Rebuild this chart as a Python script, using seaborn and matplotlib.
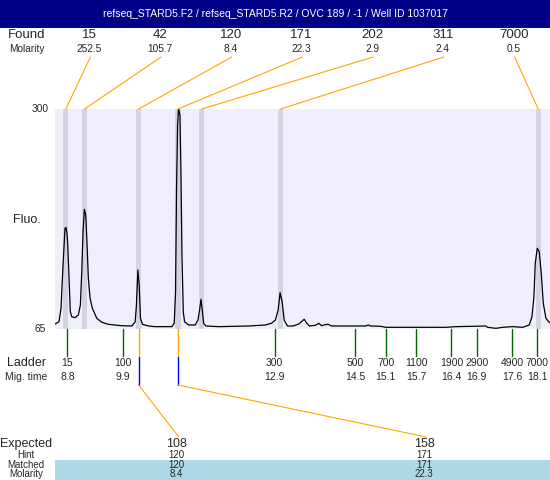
import matplotlib
matplotlib.use("Agg")
import matplotlib.pyplot as plt
import matplotlib.transforms as mtransforms
from matplotlib.patches import Rectangle
import seaborn as sns

# data
title = "refseq_STARD5.F2 / refseq_STARD5.R2 / OVC 189 / -1 / Well ID 1037017"

found_size = [15, 42, 120, 171, 202, 311, 7000]
found_molarity = [252.5, 105.7, 8.4, 22.3, 2.9, 2.4, 0.5]
found_time = [8.77, 9.14, 10.21, 10.99, 11.46, 13.02, 18.12]

ladder_size = [15, 100, 300, 500, 700, 1100, 1900, 2900, 4900, 7000]
ladder_time = [8.8, 9.9, 12.9, 14.5, 15.1, 15.7, 16.4, 16.9, 17.6, 18.1]

expected_size = [108, 158]
hint_size = [120, 171]
matched_size = [120, 171]
matched_molarity = [8.4, 22.3]

trace_time = [8.555, 8.634, 8.674, 8.714, 8.753, 8.773, 8.793, 8.807, 8.833, 8.858,
              8.886, 8.952, 9.017, 9.057, 9.085, 9.110, 9.136, 9.164, 9.190, 9.215,
              9.249, 9.295, 9.382, 9.481, 9.612, 9.878, 10.076, 10.142, 10.167, 10.195,
              10.221, 10.247, 10.286, 10.405, 10.538, 10.869, 10.915, 10.941, 10.961, 10.981,
              11.000, 11.028, 11.048, 11.068, 11.094, 11.119, 11.199, 11.332, 11.385, 11.417,
              11.445, 11.470, 11.496, 11.544, 11.794, 12.389, 12.720, 12.839, 12.918, 12.972,
              13.011, 13.051, 13.091, 13.156, 13.261, 13.380, 13.434, 13.487, 13.539, 13.593,
              13.712, 13.777, 13.831, 13.896, 13.963, 14.029, 14.703, 14.757, 14.802, 15.001,
              15.100, 16.288, 16.488, 17.083, 17.117, 17.282, 17.414, 17.613, 17.811, 17.942,
              17.996, 18.035, 18.061, 18.101, 18.140, 18.180, 18.220, 18.273, 18.327, 18.372]
trace_fluo = [70.3, 72.8, 87.1, 133.4, 172.6, 173.5, 166.5, 154.7, 119.5, 83.5,
              78.1, 77.1, 80.0, 90.6, 126.2, 168.9, 192.8, 186.8, 154.7, 119.2,
              97.8, 87.1, 76.4, 72.2, 70.0, 68.5, 68.2, 72.8, 90.6, 128.0,
              112.0, 76.4, 70.0, 68.2, 67.5, 67.5, 71.1, 104.8, 215.3, 282.9,
              300.0, 293.6, 233.0, 144.0, 83.5, 72.8, 69.3, 69.3, 74.6, 85.3,
              96.7, 85.3, 71.1, 68.2, 67.5, 68.2, 69.3, 71.1, 74.6, 85.3,
              103.8, 94.2, 74.6, 68.2, 68.2, 70.3, 72.8, 75.4, 71.1, 68.2,
              69.0, 71.1, 68.5, 69.6, 70.0, 68.2, 68.2, 69.3, 68.2, 67.9,
              66.8, 66.8, 67.5, 68.2, 66.8, 65.7, 66.8, 67.5, 66.8, 69.3,
              78.1, 99.5, 135.2, 151.2, 147.6, 124.5, 92.5, 76.4, 72.8, 71.1]

sns.set_style("white")
plt.rcParams['font.family'] = ['Liberation Sans', 'DejaVu Sans']

W, H = 550, 480
fig = plt.figure(figsize=(W / 100, H / 100), dpi=100)

# main trace panel (pixels 55..550 x 109..329)
ax = fig.add_axes([55 / W, (H - 329) / H, 495 / W, 220 / H])
ax.set_facecolor("#efeffc")
for t in found_time:
    ax.axvspan(t - 0.05, t + 0.05, color="#d3d3e1", lw=0, zorder=1)
sns.lineplot(x=trace_time, y=trace_fluo, ax=ax, color="black", lw=0.9, zorder=3)
ax.set_xlim(8.555, 18.353)
ax.set_ylim(65, 300)
ax.set_xticks([])
ax.set_yticks([])
ax.set_xlabel("")
ax.set_ylabel("")
for s in ax.spines.values():
    s.set_visible(False)

# overlay in figure pixels for labels and connectors
ov = fig.add_axes([0, 0, 1, 1], zorder=5)
ov.set_xlim(0, W)
ov.set_ylim(H, 0)
ov.axis("off")
ov.patch.set_alpha(0)
mixed = mtransforms.blended_transform_factory(ax.transData, ov.transData)


def px(t):
    return ov.transData.inverted().transform(ax.transData.transform((t, 65)))[0]


# title bar
ov.add_patch(Rectangle((0, 0), W, 28, color="#000088", lw=0))
ov.text(W / 2, 14, title, color="white", ha="center", va="center", fontsize=7.5)

# found peaks
ov.text(27, 35, "Found", ha="center", va="center", fontsize=9.5)
ov.text(27, 48.5, "Molarity", ha="center", va="center", fontsize=7.3)
col = 495 / len(found_size)
for i, (s, m, t) in enumerate(zip(found_size, found_molarity, found_time)):
    cx = 55 + (i + 0.5) * col
    ov.text(cx - 1, 35, str(s), ha="center", va="center", fontsize=9.5)
    ov.text(cx - 1, 48.5, f"{m:.1f}", ha="center", va="center", fontsize=7.3)
    ov.plot([cx, px(t)], [57, 109], color="orange", lw=0.8)

# y labels
ov.text(40.5, 109, "300", ha="center", va="center", fontsize=7.3)
ov.text(40.5, 329, "65", ha="center", va="center", fontsize=7.3)
ov.text(26.5, 220, "Fluo.", ha="center", va="center", fontsize=9)

# ladder
ov.text(26, 363, "Ladder", ha="center", va="center", fontsize=9)
ov.text(26, 377, "Mig. time", ha="center", va="center", fontsize=7.5)
for s, t in zip(ladder_size, ladder_time):
    ov.plot([t, t], [329, 356], color="#006400", lw=1, transform=mixed)
    ov.text(t, 363, str(s), ha="center", va="center", fontsize=7.5, transform=mixed)
    ov.text(t, 377, f"{t:.1f}", ha="center", va="center", fontsize=7.5, transform=mixed)

# expected / matched
time_of = dict(zip(found_size, found_time))
ov.add_patch(Rectangle((55, 460), 495, 20, color="#add8e6", lw=0))
ov.text(26, 444, "Expected", ha="center", va="center", fontsize=9)
ov.text(26, 455, "Hint", ha="center", va="center", fontsize=7)
ov.text(26, 464.5, "Matched", ha="center", va="center", fontsize=7)
ov.text(26, 474, "Molarity", ha="center", va="center", fontsize=7)
ecol = 495 / len(expected_size)
for i, (e, h, m, mol) in enumerate(zip(expected_size, hint_size, matched_size, matched_molarity)):
    cx = 55 + (i + 0.5) * ecol
    t = time_of[m]
    ov.plot([t, t], [329, 357], color="orange", lw=1, transform=mixed)
    ov.plot([t, t], [357, 385], color="blue", lw=1, transform=mixed)
    ov.plot([px(t), cx], [385, 437], color="orange", lw=0.8)
    ov.text(cx - 2, 444, str(e), ha="center", va="center", fontsize=9)
    ov.text(cx - 2, 455, str(h), ha="center", va="center", fontsize=7)
    ov.text(cx - 2, 464.5, str(m), ha="center", va="center", fontsize=7)
    ov.text(cx - 2, 474, f"{mol:.1f}", ha="center", va="center", fontsize=7)

fig.savefig("out.png", dpi=100)
